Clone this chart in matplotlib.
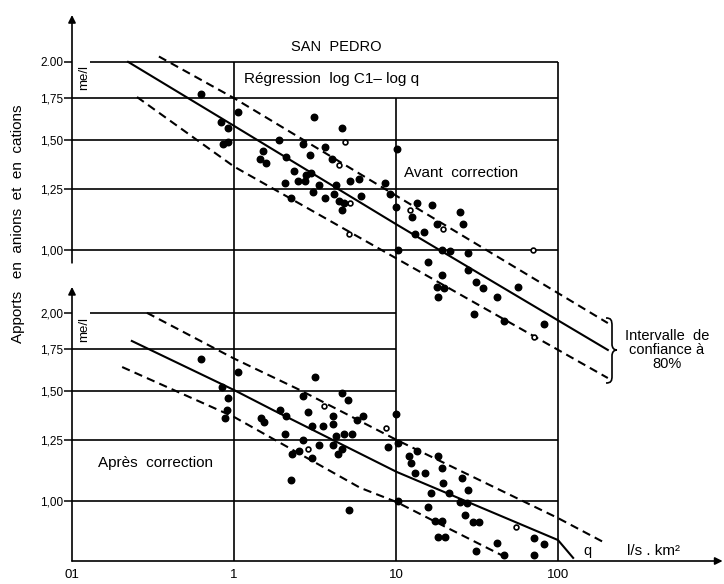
import matplotlib
matplotlib.use("Agg")
import matplotlib.pyplot as plt
from matplotlib.path import Path
from matplotlib.patches import PathPatch
from matplotlib.ticker import NullLocator

plt.rcParams['font.family'] = ['Liberation Sans', 'DejaVu Sans']

# --- valeurs (q en l/s.km2, C en me/l) ---
# avant correction : points pleins
q_avant = [0.63, 0.83, 0.92, 0.86, 0.92, 1.06, 1.90, 1.51, 1.45, 1.58, 2.09, 2.67, 3.12,
           3.65, 2.94, 4.03, 2.35, 2.48, 2.74, 2.78, 2.99, 2.07, 3.35, 4.26, 5.20, 5.91,
           3.07, 3.65, 4.14, 2.25, 4.45, 4.78, 4.64, 6.08, 4.64, 10.1, 8.55, 9.18, 10.0,
           13.5, 16.7, 12.6, 17.9, 13.1, 14.9, 24.8, 25.9, 10.3, 19.2, 21.5, 27.8, 15.8,
           27.8, 19.2, 31.2, 34.4, 17.9, 19.8, 18.2, 42.0, 56.6, 30.3, 46.4, 82.0]
c_avant = [1.78, 1.60, 1.57, 1.48, 1.49, 1.66, 1.50, 1.44, 1.40, 1.38, 1.41, 1.48, 1.63,
           1.46, 1.42, 1.40, 1.34, 1.29, 1.29, 1.32, 1.33, 1.28, 1.27, 1.27, 1.29, 1.30,
           1.24, 1.21, 1.23, 1.21, 1.20, 1.19, 1.16, 1.22, 1.57, 1.45, 1.28, 1.23, 1.17,
           1.19, 1.18, 1.13, 1.10, 1.06, 1.07, 1.15, 1.10, 1.00, 1.00, 0.996, 0.989, 0.957,
           0.929, 0.912, 0.889, 0.869, 0.873, 0.869, 0.841, 0.841, 0.873, 0.790, 0.770, 0.761]
# avant correction : points creux
q_avant_o = [4.45, 5.20, 5.13, 4.84, 12.2, 19.5, 70.1, 71.1]
c_avant_o = [1.37, 1.19, 1.06, 1.49, 1.16, 1.08, 1.00, 0.726]

# après correction : points pleins
q_apres = [0.63, 1.06, 0.84, 0.92, 0.91, 0.88, 1.47, 1.53, 1.92, 2.09, 2.07, 2.25, 2.28,
           2.52, 2.67, 3.16, 2.67, 2.86, 3.03, 3.03, 3.35, 3.54, 4.08, 4.08, 4.08, 4.26,
           4.38, 4.64, 4.78, 5.35, 4.64, 5.05, 5.13, 5.75, 6.26, 8.92, 10.0, 10.3, 10.3,
           12.0, 13.5, 12.4, 13.1, 15.1, 18.2, 19.2, 19.5, 25.6, 16.5, 21.2, 27.8, 24.8,
           27.4, 15.8, 26.7, 17.4, 19.2, 29.9, 32.5, 18.2, 20.1, 42.0, 71.1, 82.0, 31.2,
           46.4, 71.1]
c_apres = [1.69, 1.61, 1.52, 1.46, 1.40, 1.36, 1.36, 1.34, 1.40, 1.37, 1.28, 1.08, 1.19,
           1.20, 1.25, 1.58, 1.47, 1.39, 1.32, 1.17, 1.23, 1.32, 1.37, 1.33, 1.23, 1.27,
           1.19, 1.21, 1.28, 1.28, 1.49, 1.45, 0.966, 1.35, 1.37, 1.22, 1.38, 1.24, 1.00,
           1.18, 1.20, 1.15, 1.11, 1.11, 1.18, 1.13, 1.07, 1.09, 1.03, 1.03, 1.04, 0.996,
           0.993, 0.978, 0.950, 0.929, 0.929, 0.926, 0.926, 0.876, 0.876, 0.857, 0.873,
           0.854, 0.832, 0.820, 0.820]
q_apres_o = [2.86, 3.59, 8.67, 55.0]
c_apres_o = [1.21, 1.42, 1.31, 0.909]

# droites de régression et intervalle de confiance à 80 %
q_reg_h = [0.222, 1.0, 10.0, 203]
c_reg_h = [2.00, 1.58, 1.10, 0.692]
q_sup_h = [0.344, 1.0, 203]
c_sup_h = [2.04, 1.75, 0.764]
q_inf_h = [0.252, 1.0, 203]
c_inf_h = [1.757, 1.36, 0.624]

q_reg_b = [0.234, 1.0, 1.74, 10.1, 100, 124]
c_reg_b = [1.803, 1.505, 1.398, 1.113, 0.866, 0.811]
q_sup_b = [0.290, 1.0, 2.55, 10.1, 100, 190]
c_sup_b = [2.00, 1.69, 1.505, 1.252, 0.939, 0.86]
q_inf_b = [0.204, 1.0, 6.0, 10.1, 20.9, 48.4]
c_inf_b = [1.638, 1.363, 1.05, 0.996, 0.905, 0.811]

niveaux = [1.00, 1.25, 1.50, 1.75, 2.00]
lab_h = ['1,00', '1,25', '1,50', '1,75', '2.00']
lab_b = ['1,00', '1,25', '1,50', '1,75', '2,00']
q_ticks = [0.1, 1, 10, 100]
q_labels = ['01', '1', '10', '100']

fig = plt.figure(figsize=(7.24, 5.84), dpi=100)
pos = [72 / 724, 23 / 584, 648 / 724, 546 / 584]
ax_h = fig.add_axes(pos)
ax_b = fig.add_axes(pos)

for ax in (ax_h, ax_b):
    ax.set_xscale('log')
    ax.set_yscale('log')
    ax.set_xlim(0.1, 1000)
    ax.patch.set_visible(False)
    for s in ax.spines.values():
        s.set_visible(False)
    ax.tick_params(axis='y', length=6, width=1.1, pad=0.5, labelsize=8.5)
    ax.tick_params(axis='x', length=0, pad=6, labelsize=9.5)

ax_h.set_ylim(0.318, 2.377)
ax_b.set_ylim(0.8017, 5.99)
ax_h.set_yticks(niveaux, lab_h)
ax_b.set_yticks(niveaux, lab_b)
ax_h.set_xticks([])
ax_b.set_xticks(q_ticks, q_labels)
for ax in (ax_h, ax_b):
    ax.xaxis.set_minor_locator(NullLocator())
    ax.yaxis.set_minor_locator(NullLocator())

lw_g = 1.2
# quadrillage du haut
ax_h.hlines(niveaux[:-1], 0.1, 100, color='k', lw=lw_g)
ax_h.hlines(2.0, 0.13, 100, color='k', lw=lw_g)
ybas = ax_h.get_ylim()[0]
ax_h.vlines([1, 100], ybas, 2.0, color='k', lw=lw_g)
ax_h.vlines(10, ybas, 1.75, color='k', lw=lw_g)
# quadrillage du bas
ax_b.hlines([1.00, 1.25], 0.1, 100, color='k', lw=lw_g)
ax_b.hlines([1.50, 1.75], 0.1, 10, color='k', lw=lw_g)
ax_b.hlines(2.0, 0.13, 10, color='k', lw=lw_g)

# axes avec flèches
fl = dict(arrowstyle='-|>', color='k', lw=1.2, mutation_scale=11, shrinkA=0, shrinkB=0)
ax_h.annotate('', xy=(0, 1.0), xytext=(0, 0.546), xycoords='axes fraction', arrowprops=fl)
ax_b.annotate('', xy=(0, 0.502), xytext=(0, 0), xycoords='axes fraction', arrowprops=fl)
ax_b.annotate('', xy=(1.004, 0), xytext=(0, 0), xycoords='axes fraction', arrowprops=fl,
              annotation_clip=False)

# régressions
tirets = (4, 2.5)
ax_h.plot(q_reg_h, c_reg_h, color='k', lw=1.5)
ax_h.plot(q_sup_h, c_sup_h, color='k', lw=1.5, dashes=tirets)
ax_h.plot(q_inf_h, c_inf_h, color='k', lw=1.5, dashes=tirets)
ax_b.plot(q_reg_b, c_reg_b, color='k', lw=1.5)
ax_b.plot(q_sup_b, c_sup_b, color='k', lw=1.5, dashes=tirets)
ax_b.plot(q_inf_b, c_inf_b, color='k', lw=1.5, dashes=tirets)

# points
ax_h.scatter(q_avant, c_avant, s=22, c='k', zorder=3)
ax_h.scatter(q_avant_o, c_avant_o, s=12, facecolors='white', edgecolors='k', linewidths=1.2, zorder=3)
ax_b.scatter(q_apres, c_apres, s=22, c='k', zorder=3)
ax_b.scatter(q_apres_o, c_apres_o, s=12, facecolors='white', edgecolors='k', linewidths=1.2, zorder=3)

# textes
ax_h.text(4.26, 2.11, 'SAN  PEDRO', fontsize=10.5, ha='center', va='center')
ax_h.text(1.15, 1.877, 'Régression  log C1– log q', fontsize=11, ha='left', va='center')
ax_h.text(11.2, 1.328, 'Avant  correction', fontsize=11, ha='left', va='center')
ax_b.text(0.145, 1.15, 'Après  correction', fontsize=11, ha='left', va='center')
ax_h.text(0.119, 1.89, 'me/l', fontsize=9.5, rotation=90, ha='center', va='center')
ax_b.text(0.119, 1.88, 'me/l', fontsize=9.5, rotation=90, ha='center', va='center')
ax_h.text(471, 0.692, 'Intervalle  de\nconfiance à\n80%', fontsize=10.5, ha='center',
          va='center', linespacing=1.0)
ax_b.text(153, 0.832, 'q', fontsize=10.5, ha='center', va='center')
ax_b.text(386, 0.832, 'l/s . km²', fontsize=11, ha='center', va='center')
fig.text(18 / 724, 1 - 224 / 584, 'Apports   en  anions  et  en  cations', fontsize=11,
         rotation=90, ha='center', va='center')

# accolade
def px(x, y):
    return (x / 724, 1 - y / 584)

verts = [px(606, 318), px(611, 318), px(612, 320), px(612, 326), px(612, 344),
         px(612, 348), px(614, 350), px(617, 350), px(614, 350), px(612, 352),
         px(612, 356), px(612, 376), px(612, 381), px(611, 383), px(606, 383)]
codes = [Path.MOVETO, Path.CURVE4, Path.CURVE4, Path.CURVE4, Path.LINETO,
         Path.CURVE4, Path.CURVE4, Path.CURVE4, Path.CURVE4, Path.CURVE4,
         Path.CURVE4, Path.LINETO, Path.CURVE4, Path.CURVE4, Path.CURVE4]
fig.patches.append(PathPatch(Path(verts, codes), transform=fig.transFigure,
                             fill=False, lw=1.2, color='k'))

fig.savefig('out.png', dpi=100)
